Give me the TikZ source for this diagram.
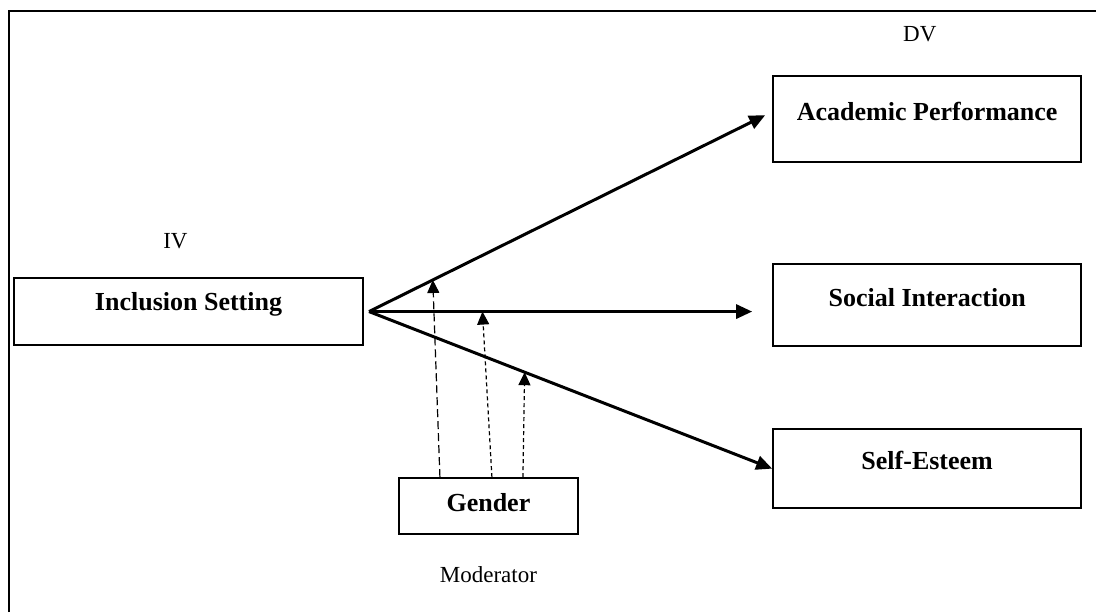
\documentclass[tikz,border=0pt]{standalone}
\usepackage{fontspec}
\setmainfont{Liberation Serif}
\usepackage{tikz}
\usetikzlibrary{arrows.meta}
\tikzstyle{varbox} = [rectangle, draw=black, line width=1pt, text height=9pt, font=\fontsize{13}{15}\selectfont\bfseries, align=center]
\tikzstyle{dvbox} = [varbox, minimum width=154pt, minimum height=41pt, text depth=8pt]
\tikzstyle{ivbox} = [varbox, minimum width=174.5pt, minimum height=33.5pt, text depth=10pt]
\tikzstyle{modbox} = [varbox, minimum width=89.5pt, minimum height=28pt, text depth=3.4pt]
\tikzstyle{tag} = [font=\fontsize{11.5}{13}\selectfont]
\tikzstyle{arrow} = [line width=1.5pt, -{Triangle[length=8pt,width=7pt]}]
\tikzstyle{modarrow} = [line width=0.6pt, -{Triangle[length=6.5pt,width=6pt]}]

\begin{document}
\begin{tikzpicture}[node distance=2cm]
        \useasboundingbox (0,0) rectangle (19.26,-10.755);
        \draw [line width=1pt] (0.16,-10.755) |- (19.26,-0.19);
        \node (incl) [ivbox] at (3.313,-5.475) {Inclusion Setting};
        \node (soc) [dvbox, right of=incl, xshift=10.98cm, yshift=0.11cm] {Social Interaction};
        \node (acad) [dvbox, minimum height=43pt, above of=soc, yshift=1.27cm] {Academic Performance};
        \node (self) [dvbox, minimum height=39.5pt, below of=soc, yshift=-0.87cm] {Self-Esteem};
        \node (gender) [modbox, below of=incl, xshift=5.27cm, yshift=-1.42cm] {Gender};
        \node (ivtag) [tag, node distance=1.24cm, above of=incl, xshift=-0.23cm] {IV};
        \node (dvtag) [tag, node distance=1.49cm, above of=acad, xshift=-0.13cm] {DV};
        \node (modtag) [tag, node distance=1.2cm, below of=gender] {Moderator};
        \coordinate (hub) at ([xshift=2.5pt]incl.east);
        \draw [arrow] (hub) -- coordinate[pos=0.161] (m1) ([xshift=-3.5pt,yshift=2pt]acad.west);
        \draw [arrow] (hub) -- coordinate[pos=0.296] (m2) ([xshift=-10pt]hub -| soc.west);
        \draw [arrow] (hub) -- coordinate[pos=0.386] (m3) (self.west);
        \draw [modarrow, dash pattern=on 4pt off 2pt] ([xshift=21pt]gender.north west) -- (m1);
        \draw [modarrow, dash pattern=on 2pt off 1.5pt] ([xshift=47pt]gender.north west) -- (m2);
        \draw [modarrow, dash pattern=on 2pt off 1.5pt] ([xshift=62.5pt]gender.north west) -- (m3);
\end{tikzpicture}
\end{document}
